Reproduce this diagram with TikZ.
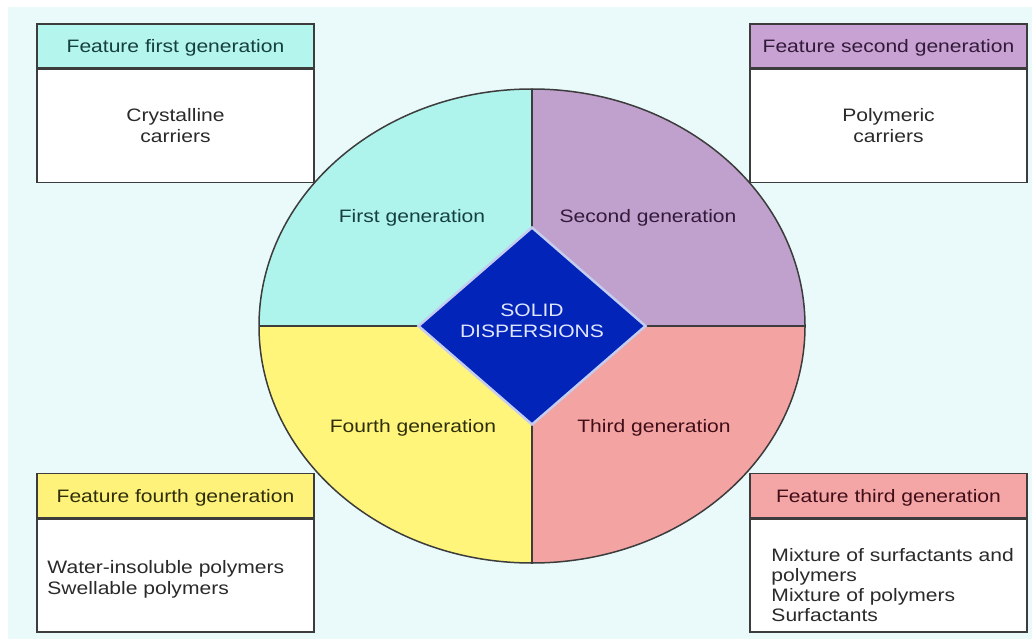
\documentclass[tikz,border=0pt]{standalone}
\usepackage{fontspec}
\setmainfont[FakeStretch=1.17]{Liberation Sans}
\usepackage{tikz}
\usetikzlibrary{shapes.geometric,positioning}
\definecolor{back_cyan}{RGB}{234,250,250}
\definecolor{quad_cyan}{RGB}{175,244,236}
\definecolor{head_cyan}{RGB}{180,245,238}
\definecolor{quad_purple}{RGB}{192,160,204}
\definecolor{head_purple}{RGB}{200,162,210}
\definecolor{quad_red}{RGB}{244,163,163}
\definecolor{head_red}{RGB}{244,166,166}
\definecolor{quad_yell}{RGB}{255,245,122}
\definecolor{head_yell}{RGB}{255,242,122}
\definecolor{core_blue}{RGB}{2,36,184}
\definecolor{core_edge}{RGB}{196,204,240}
\definecolor{core_text}{RGB}{224,230,255}
\definecolor{line_gray}{RGB}{60,60,60}
\definecolor{text_teal}{RGB}{22,64,64}
\definecolor{text_purple}{RGB}{50,26,58}
\definecolor{text_red}{RGB}{64,14,24}
\definecolor{text_olive}{RGB}{46,46,10}
\definecolor{text_gray}{RGB}{42,42,42}

\begin{document}
\begin{tikzpicture}[x=1pt,y=-1pt,font=\fontsize{18}{21}\selectfont]
    \tikzstyle{box}=[draw=line_gray, line width=1.5pt, rectangle, minimum width=277pt, inner sep=0pt, text=text_gray]
    \tikzstyle{head}=[style=box, minimum height=44pt, text height=15pt, text depth=1pt]
    \tikzstyle{body}=[style=box, fill=white, minimum height=113pt, align=center, anchor=north]
    \tikzstyle{list}=[align=left, anchor=west, text=text_gray, inner sep=0pt]
    \tikzstyle{gen}=[inner sep=0pt, anchor=base]
    \tikzstyle{divider}=[draw=line_gray, line width=1.5pt]
    \tikzstyle{core}=[diamond, fill=core_blue, draw=core_edge, line width=2.5pt, minimum width=228pt, minimum height=198pt, inner sep=0pt, text=core_text, align=center, text depth=10pt]

    \useasboundingbox (0,0) rectangle (1032,639);
    \fill[white] (0,0) rectangle (1032,639);
    \fill[back_cyan] (8,7) rectangle (1032,639);

    \coordinate (c)   at (532,326);
    \coordinate (top) at (532,89);
    \coordinate (bot) at (532,563);
    \coordinate (lft) at (259,326);
    \coordinate (rgt) at (805,326);

    \begin{scope}
      \clip (c) ellipse [x radius=273pt, y radius=237pt];
      \fill[quad_cyan]   (lft |- top) rectangle (c);
      \fill[quad_purple] (c) rectangle (rgt |- top);
      \fill[quad_red]    (c) rectangle (rgt |- bot);
      \fill[quad_yell]   (c) rectangle (lft |- bot);
    \end{scope}
    \path
     (top) edge[divider] (bot)
     (lft) edge[divider] (rgt)
     ;
    \draw[divider] (c) ellipse [x radius=273pt, y radius=237pt];

    \node[core] (sd) at (c) {SOLID\\DISPERSIONS};

    \node[gen, text=text_teal]   (g1) at (412,222) {First generation};
    \node[gen, text=text_purple] (g2) at (648,222) {Second generation};
    \node[gen, text=text_red]    (g3) at (654,432) {Third generation};
    \node[gen, text=text_olive]  (g4) at (413,432) {Fourth generation};

    \node[head, fill=head_cyan, text=text_teal] (f1) at (175.5,46) {Feature first generation};
    \node[body] (d1) at (f1.south) {Crystalline\\carriers};

    \node[head, fill=head_purple, text=text_purple] (f2) at (888.5,46) {Feature second generation};
    \node[body] (d2) at (f2.south) {Polymeric\\carriers};

    \node[head, fill=head_red, text=text_red] (f3) at (888.5,495.5) {Feature third generation};
    \node[body] (d3) at (f3.south) {};
    \node[list, font=\fontsize{18}{20}\selectfont] (l3) at ([xshift=22pt,yshift=-10pt]d3.west) {Mixture of surfactants and\\polymers\\Mixture of polymers\\Surfactants};

    \node[head, fill=head_yell, text=text_olive] (f4) at (175.5,495.5) {Feature fourth generation};
    \node[body] (d4) at (f4.south) {};
    \node[list] (l4) at ([xshift=11pt,yshift=-4pt]d4.west) {Water-insoluble polymers\\Swellable polymers};
\end{tikzpicture}
\end{document}
